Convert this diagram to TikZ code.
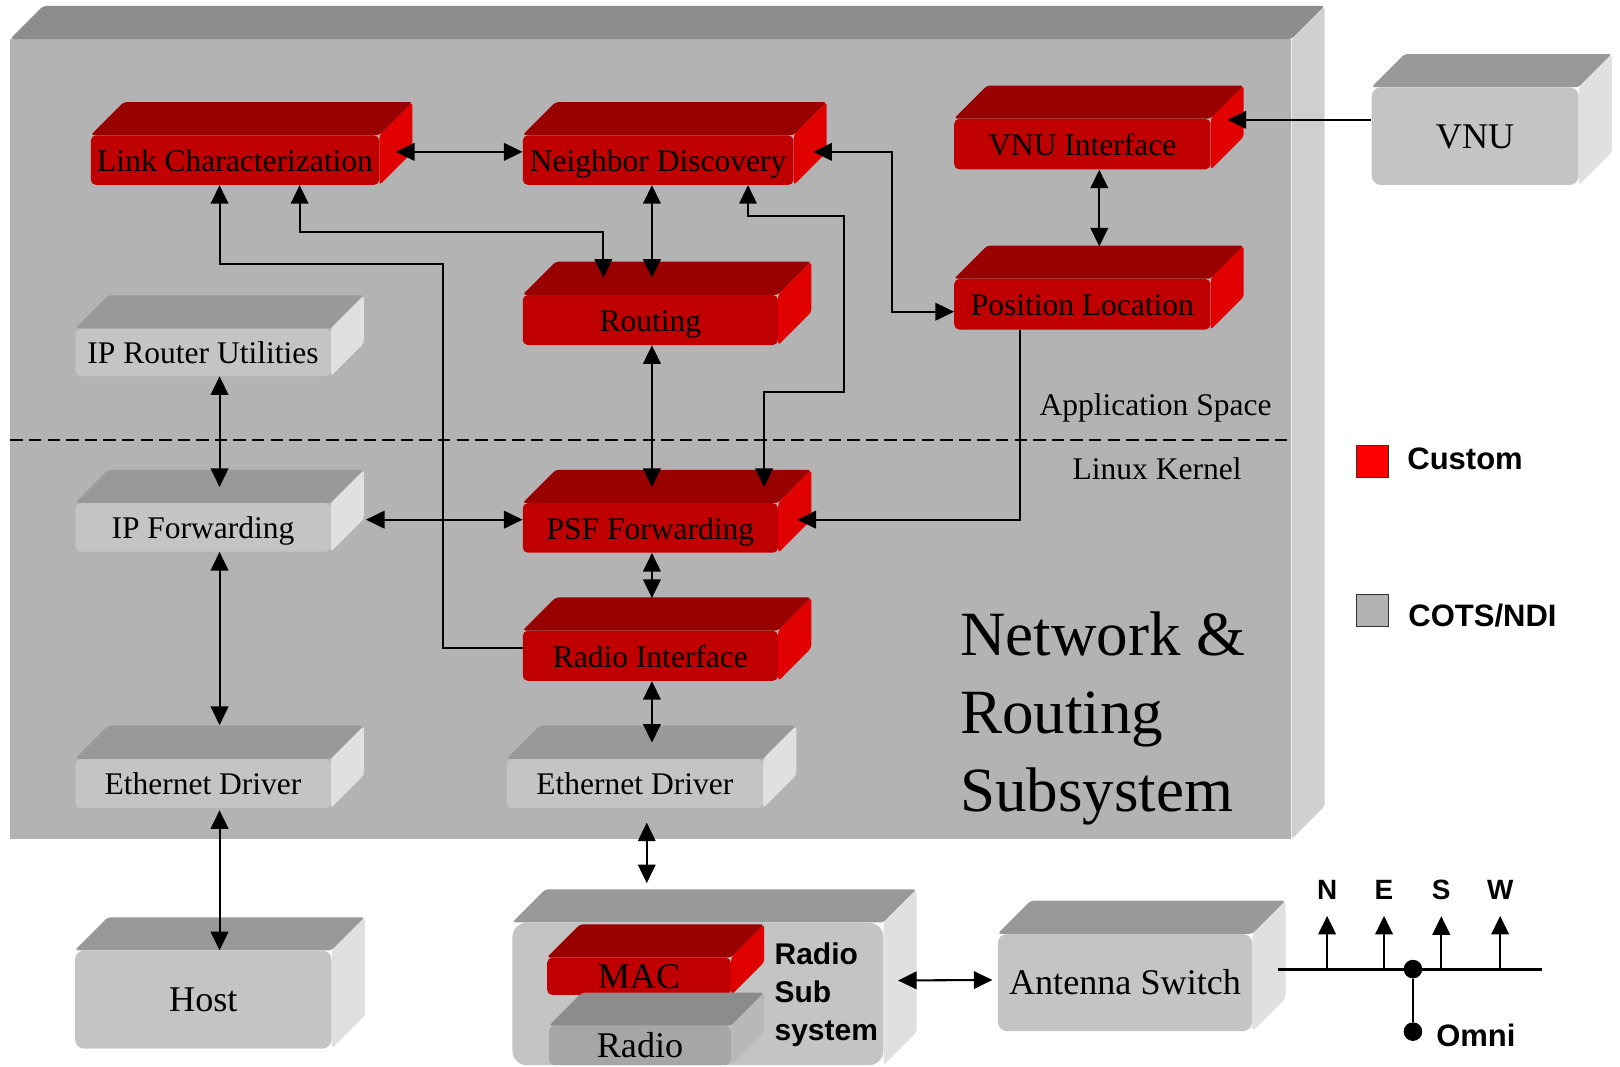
\documentclass[tikz,border=0pt]{standalone}
\usepackage{fontspec}
\setmainfont{Liberation Serif}
\setsansfont{Liberation Sans}
\usepackage{tikz}
\usetikzlibrary{arrows.meta, positioning, calc}

\definecolor{platefront}{HTML}{B3B3B3}
\definecolor{platetop}{HTML}{8C8C8C}
\definecolor{plateside}{HTML}{D0D0D0}
\definecolor{redfront}{HTML}{C00000}
\definecolor{redtop}{HTML}{990000}
\definecolor{redside}{HTML}{E00000}
\definecolor{greyfront}{HTML}{C4C4C4}
\definecolor{greytop}{HTML}{999999}
\definecolor{greyside}{HTML}{E0E0E0}
\definecolor{darkfront}{HTML}{A6A6A6}
\definecolor{darktop}{HTML}{8C8C8C}
\definecolor{darkside}{HTML}{B8B8B8}

\begin{document}
\begin{tikzpicture}[
  x=1pt, y=-1pt,
  >={Triangle[length=18pt,width=17pt]},
  platebox/.style={fill=platefront, inner sep=0pt},
  slab/.style={
    fill=#1front, rounded corners=5pt, inner sep=0pt,
    font=\fontsize{30.5}{36}\selectfont, text height=22pt, text depth=0pt
  },
  bigslab/.style={slab=#1, rounded corners=9pt, font=\fontsize{35}{40}\selectfont, text height=24pt},
  link/.style={line width=2pt},
  layer/.style={line width=2pt, dash pattern=on 12pt off 6pt},
  note/.style={font=\fontsize{30.5}{36}\selectfont, inner sep=0pt},
  title/.style={font=\fontsize{61}{75.5}\selectfont, align=left, inner sep=0pt},
  subtext/.style={font=\sffamily\bfseries\fontsize{29}{37}\selectfont, align=left, inner sep=0pt},
  key/.style={draw=black!80, line width=1.5pt, minimum size=31pt, inner sep=0pt},
  keytext/.style={font=\sffamily\bfseries\fontsize{30}{34}\selectfont, inner sep=0pt},
  compass/.style={font=\sffamily\bfseries\fontsize{27}{30}\selectfont, inner sep=0pt},
  bar/.style={line width=3pt},
  stub/.style={line width=2.2pt},
  dot/.style={circle, fill=black, minimum size=18pt, inner sep=0pt}
]
  \useasboundingbox (0,0) rectangle (1568,1032);

  % subsystem plate
  \node[platebox, minimum width=1240pt, minimum height=774pt] (plate) at (630,425) {};

  % application space
  \node[slab=red, minimum width=279pt, minimum height=48pt] (lnk) at (227.5,155) {Link Characterization};
  \node[slab=red, minimum width=262pt, minimum height=48pt] (nbr) at (637,155) {Neighbor Discovery};
  \node[slab=red, minimum width=248pt, minimum height=49pt] (vnuif) at (1047.6,139.5) {VNU Interface};
  \node[slab=red, minimum width=248pt, minimum height=49pt] (posloc) at (1047.6,294.5) {Position Location};
  \node[slab=red, minimum width=247pt, minimum height=48.5pt] (rout) at (629.5,309.75) {Routing};
  \node[slab=grey, minimum width=247pt, minimum height=46pt] (iprut) at (196.5,341) {IP Router Utilities};

  % kernel
  \node[slab=grey, minimum width=247pt, minimum height=47pt] (ipfwd) at (196.5,510.5) {IP Forwarding};
  \node[slab=red, minimum width=247pt, minimum height=48pt] (psf) at (629.5,511) {PSF Forwarding};
  \node[slab=red, minimum width=247pt, minimum height=48.5pt] (radif) at (629.5,634.75) {Radio Interface};
  \node[slab=grey, minimum width=247pt, minimum height=47.4pt] (ethl) at (196.5,758.3) {Ethernet Driver};
  \node[slab=grey, minimum width=248pt, minimum height=47.4pt] (ethr) at (614.5,758.3) {Ethernet Driver};

  % outside the plate
  \node[bigslab=grey, minimum width=200.4pt, minimum height=94.5pt] (vnu) at (1427.8,131.75) {VNU};
  \node[bigslab=grey, minimum width=248.4pt, minimum height=95pt] (host) at (196.8,967.5) {Host};
  \node[bigslab=grey, rounded corners=14pt, minimum width=359pt, minimum height=138pt] (rss) at (675.5,962) {};
  \node[bigslab=red, rounded corners=5pt, minimum width=178pt, minimum height=36pt] (mac) at (618.5,945) {MAC};
  \node[bigslab=dark, rounded corners=5pt, minimum width=176pt, minimum height=38pt] (radio) at (619.5,1012) {Radio};
  \node[bigslab=grey, minimum width=246.3pt, minimum height=94pt] (antsw) at (1088.9,951) {Antenna Switch};

  % top and side faces
  \foreach \n/\col in {plate/plate, lnk/red, nbr/red, vnuif/red, posloc/red, rout/red, iprut/grey,
      ipfwd/grey, psf/red, radif/red, ethl/grey, ethr/grey, vnu/grey, host/grey, rss/grey,
      mac/red, radio/dark, antsw/grey} {
    \fill[\col top, rounded corners=3pt] (\n.north west) -- ++(32,-32) -- ($(\n.north east)+(32,-32)$) -- (\n.north east) -- cycle;
    \fill[\col side, rounded corners=3pt] (\n.north east) -- ++(32,-32) -- ($(\n.south east)+(32,-32)$) -- (\n.south east) -- cycle;
  }

  % layer split
  \coordinate (splitL) at (10,426);
  \coordinate (splitR) at (1250,426);
  \draw[layer] (splitL) -- (splitR);
  \node[note, anchor=base west] (appspace) at (1006,401.7) {Application Space};
  \node[note, anchor=base west] (kernel) at (1038,463.8) {Linux Kernel};
  \node[title, anchor=north west] (caption) at (929,592.3) {Network \&\\Routing\\Subsystem};

  % connectors
  \draw[link, <->] ($(lnk.east)+(16,-8)$) -- ($(nbr.west)+(0,-8)$);
  \draw[link, <->] ($(nbr.east)+(19,-8)$) -| ($(posloc.west)+(-59.6,7.2)$) -- ($(posloc.west)+(0,7.2)$);
  \draw[link, <-] ($(vnuif.east)+(16.3,-23.5)$) -- ($(vnu.west)+(0,-15.75)$);
  \draw[link, <->] ($(vnuif.south)+(16.4,0)$) -- ($(posloc.north)+(16.4,-31.3)$);
  \draw[link, <-] ($(lnk.south)+(-15,0)$) -- ++(0,76) -| ($(radif.west)+(-77,-7.75)$) -- ($(radif.west)+(0,-7.75)$);
  \draw[link, <->] ($(lnk.south)+(62.5,0)$) -- ++(0,45) -| ($(rout.north)+(-45.5,-16.5)$);
  \draw[link, <->] ($(nbr.south)+(-6,0)$) -- ($(rout.north)+(1.5,-16.5)$);
  \draw[link, <->] ($(nbr.south)+(87,0)$) -- ++(0,30) -| ++(93,170) -| ($(psf.north)+(110.1,-15.4)$);
  \draw[link, <->] ($(rout.south)+(1.5,0)$) -- ($(psf.north)+(1.5,-15.4)$);
  \draw[link, ->] ($(posloc.south)+(-60.6,0)$) |- ($(psf.east)+(18.6,-8)$);
  \draw[link, <->] ($(psf.south)+(1.5,0)$) -- ($(radif.north)+(1.5,-31.5)$);
  \draw[link, <->] ($(radif.south)+(1.5,0)$) -- ($(ethr.north)+(16.5,-15.6)$);
  \draw[link, <->] ($(iprut.south)+(16,0)$) -- ($(ipfwd.north)+(16,-15.4)$);
  \draw[link, <->] ($(ipfwd.east)+(34,-7.5)$) -- ($(psf.west)+(0,-8)$);
  \draw[link, <->] ($(ipfwd.south)+(16,0)$) -- ($(ethl.north)+(16,-32.6)$);
  \draw[link, <->] ($(ethl.south)+(16,2)$) -- ($(host.north)+(15.7,0)$);
  \draw[link, <->] ($(ethr.south)+(11.5,14)$) -- ($(rss.north)+(-49.5,-38)$);
  \draw[link, <->] ($(rss.east)+(14,-13)$) -- ($(antsw.west)+(-5,-2.5)$);

  \node[subtext, anchor=north west] (rsslabel) at (749.6,912) {Radio\\Sub\\system};

  % legend
  \node[key, fill=red] (keycustom) at (1328.5,446.5) {};
  \node[keytext, anchor=base west] (txtcustom) at (1362,454) {Custom};
  \node[key, fill=platefront] (keycots) at (1328.5,591) {};
  \node[keytext, anchor=base west] (txtcots) at (1363,606) {COTS/NDI};

  % antennas
  \coordinate (barL) at (1236.7,938);
  \coordinate (barR) at (1492,938);
  \draw[bar] (barL) -- (barR);
  \foreach \d/\x in {N/1284.5, E/1339.6, S/1395, W/1452} {
    \node[compass] (dir\d) at (\x,861) {\d};
    \coordinate (foot\d) at (\x,938);
    \draw[stub, ->] (foot\d) -- ($(dir\d.south)+(0,16)$);
  }
  \node[dot] (hub) at (1367.6,938) {};
  \node[dot] (omnidot) at (1367.6,998.5) {};
  \draw[stub] (hub) -- (omnidot);
  \node[keytext, anchor=west] (omni) at (1390,1002.5) {Omni};
\end{tikzpicture}
\end{document}
